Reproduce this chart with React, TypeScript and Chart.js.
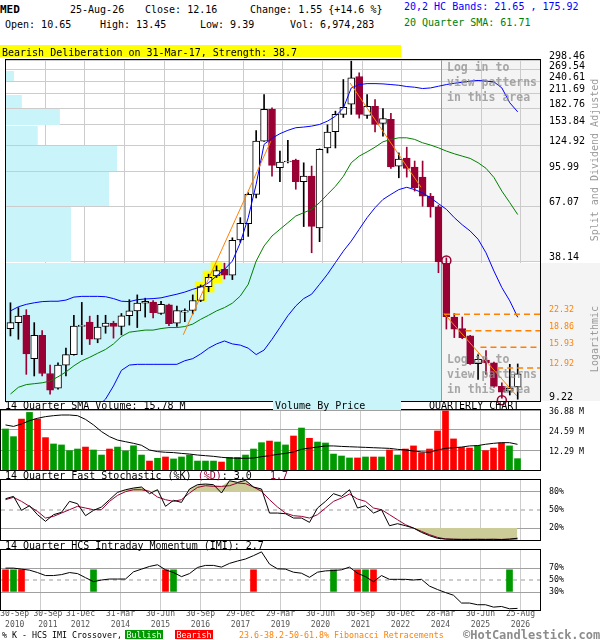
import React, { useEffect, useRef } from "react";
import { Chart, registerables } from "chart.js";

Chart.register(...registerables);

const FONT = "'DejaVu Sans Mono', monospace";
Chart.defaults.font.family = FONT;

const CYAN = "#c8f4fa";
const DOWN = "#990033";
const ORANGE = "#ff8000";
const OLIVE = "#cccc99";
const GREEN_BAR = "#009900";
const RED_BAR = "#ff0000";
const X_MIN = -0.5625;
const X_MAX = 66.8125;

// ---------- quarterly candles (30-Sep-2010 .. 25-Aug-2026) ----------
const opens = [19.3, 20.5, 22.1, 14.2, 18.0, 12.2, 10.5, 13.3, 14.8, 19.7,
  20.6, 17.3, 19.7, 20.4, 19.7, 22.0, 23.1, 25.0, 25.3, 22.5,
  24.6, 20.4, 22.8, 23.2, 25.7, 29.6, 33.0, 35.3, 33.3, 47.7,
  56.3, 75.8, 130.5, 180.3, 99.5, 105.5, 107.6, 86.2, 91.4, 53.8,
  121.7, 143.6, 171.4, 190.4, 252.2, 169.5, 186.2, 156.3, 162.8, 101.2,
  109.7, 100.1, 90.5, 74.5, 66.8, 37.5, 21.7, 19.3, 17.9, 13.5,
  14.0, 13.6, 10.7, 10.2, 10.65];
const highs = [25.1, 23.9, 23.4, 20.5, 18.9, 13.3, 13.6, 15.8, 22.1, 25.2,
  21.9, 22.1, 22.1, 20.8, 22.5, 25.9, 27.2, 26.3, 25.7, 25.5,
  24.8, 24.3, 23.6, 27.2, 30.1, 33.6, 36.6, 37.6, 48.7, 59.8,
  77.1, 145.5, 210.0, 183.4, 117.9, 131.5, 108.6, 104.6, 101.2, 120.7,
  154.1, 177.2, 244.6, 295.0, 261.9, 210.0, 199.1, 181.8, 173.4, 115.7,
  122.7, 106.5, 106.5, 76.6, 67.9, 39.7, 22.5, 21.7, 18.0, 14.8,
  15.4, 13.7, 11.1, 13.4, 13.45];
const lows = [17.9, 17.3, 12.1, 11.9, 11.9, 9.88, 10.4, 11.9, 14.7, 14.8,
  16.4, 16.7, 18.4, 17.5, 18.1, 20.0, 19.5, 21.7, 21.5, 22.3,
  19.9, 19.7, 20.7, 22.4, 25.4, 28.1, 32.5, 32.0, 31.8, 46.5,
  49.4, 73.2, 130.0, 91.4, 86.2, 104.6, 79.9, 54.6, 41.8, 46.8,
  115.7, 121.7, 166.1, 171.4, 165.0, 164.3, 143.5, 137.4, 98.9, 89.8,
  90.4, 78.4, 67.2, 60.1, 34.1, 19.2, 17.6, 17.4, 13.4, 11.5,
  12.1, 10.6, 9.5, 9.8, 9.39];
const closes = [20.5, 21.9, 14.9, 18.0, 12.2, 10.3, 13.3, 14.8, 19.8, 20.0,
  17.3, 19.6, 20.4, 19.7, 22.0, 23.1, 25.0, 25.5, 22.7, 24.7,
  20.3, 23.2, 23.2, 25.7, 29.6, 32.5, 34.9, 33.3, 47.4, 56.5,
  75.8, 130.5, 180.3, 101.9, 105.4, 106.5, 86.2, 91.4, 54.7, 120.0,
  143.1, 171.4, 184.1, 248.8, 171.4, 186.2, 154.8, 164.4, 100.2, 108.6,
  98.9, 81.1, 74.5, 66.8, 38.1, 21.8, 19.2, 17.6, 13.5, 14.1,
  13.6, 10.7, 10.1, 10.5, 12.16];

// ---------- overlays ----------
const bbUpper = [23.1, 24.1, 24.7, 25.1, 25.4, 25.5, 25.5, 25.8, 26.6, 26.8,
  26.8, 26.8, 26.7, 26.2, 25.5, 25.4, 25.9, 26.1, 26.2, 26.4,
  26.9, 27.4, 28.0, 28.8, 29.5, 30.8, 33.0, 35.3, 38.4, 46.3,
  59.8, 84.0, 126.3, 134.3, 140.8, 145.7, 149.6, 150.6, 152.1, 154.7,
  160.0, 168.2, 182.8, 224.5, 232.3, 234.6, 234.6, 233.9, 232.3, 230.7,
  227.7, 226.1, 223.1, 224.5, 228.4, 232.3, 235.4, 237.8, 240.6, 242.3,
  240.6, 238.9, 224.5, 192.9, 175.92];
const bbLower = [null, null, null, null, null, null, null, null, null, null,
  null, 8.7, 9.4, 10.75, 12.6, 13.3, 13.4, 13.4, 13.4, 13.4,
  13.4, 13.4, 13.9, 14.2, 14.9, 15.8, 16.5, 17.0, 16.5, 16.3,
  15.8, 14.8, 15.5, 17.3, 19.5, 22.0, 24.3, 26.2, 27.4, 30.3,
  33.6, 37.8, 42.5, 47.1, 53.1, 59.8, 66.2, 72.0, 75.8, 79.6,
  81.5, 79.6, 77.0, 73.2, 69.0, 65.1, 59.8, 55.6, 52.2, 48.0,
  41.8, 34.7, 29.3, 25.6, 21.65];
const sma20 = [9.9, 10.6, 10.9, 11.0, 11.1, 11.3, 11.8, 12.4, 13.2, 13.9,
  14.4, 15.0, 15.6, 16.5, 17.8, 18.6, 18.8, 19.0, 19.0, 19.3,
  19.5, 19.5, 19.7, 20.2, 21.2, 22.1, 23.1, 23.9, 25.0, 26.9,
  30.3, 38.4, 44.8, 49.6, 53.1, 56.8, 60.8, 62.9, 65.1, 69.7,
  75.8, 82.3, 91.1, 104.7, 112.0, 117.0, 122.7, 129.6, 132.8, 135.0,
  135.0, 132.8, 128.3, 125.4, 121.9, 117.9, 114.7, 112.0, 109.4, 104.7,
  98.9, 90.1, 78.4, 69.7, 61.71];

const highlightIdx = [24, 25, 26];
const highlightLow = [25.4, 28.0, 30.8];
const highlightHigh = [31.0, 34.7, 37.8];
const circleIdx = [55, 62];
const circlePrice = [38.6, 9.3];
const trendStartIdx = [21.8, 42.85, 54.7];
const trendStartPrice = [18.1, 236, 22.5];
const trendEndIdx = [32.85, 51.8, 63.9];
const trendEndPrice = [130.5, 81.5, 9.7];
const fibLevels = [22.32, 18.86, 15.93, 12.92];
const fibStartIdx = [54.7, 57.4, 59.3, 61.4];

const priceTicks = [9.22, 38.14, 67.07, 95.99, 124.92, 153.84, 182.76, 211.69, 240.61, 269.54, 298.46];
// volume-by-price, bar length (in quarters of x axis) for each band between price ticks
const vbpLength = [55, 8.2, 13.0, 14.0, 4.0, 6.8, 2.0, 0, 1.0, 0];
const patternStartIdx = 54.375;

// ---------- volume ----------
const volumes = [25.2, 20.5, 31.3, 35.4, 31.3, 19.9, 16.0, 15.4, 11.9, 12.9,
  14.1, 12.3, 9.2, 12.9, 14.1, 11.7, 14.9, 9.2, 5.5, 7.2,
  8.0, 6.8, 8.0, 9.2, 5.5, 5.5, 5.5, 4.9, 7.8, 7.8,
  9.2, 12.9, 16.8, 17.8, 17.2, 15.4, 20.9, 25.8, 19.5, 17.2,
  16.6, 9.8, 8.6, 7.4, 7.4, 8.0, 8.0, 8.0, 12.3, 9.2,
  12.9, 14.8, 10.6, 12.9, 24.0, 36.3, 19.1, 13.9, 13.5, 14.9,
  11.9, 13.5, 16.6, 14.8, 6.97];
const volSma = [27.7, 26.8, 28.3, 30.3, 31.8, 32.8, 33.4, 33.8, 33.8, 33.4,
  31.1, 27.7, 23.6, 20.5, 18.4, 17.4, 16.4, 15.2, 12.3, 11.3,
  10.9, 10.7, 10.2, 9.8, 9.2, 8.8, 8.4, 7.8, 7.4, 7.2,
  7.2, 7.4, 8.2, 8.8, 9.6, 10.2, 11.1, 12.7, 13.5, 14.1,
  14.8, 14.8, 14.5, 14.3, 14.1, 13.9, 13.7, 13.5, 13.3, 12.7,
  12.3, 11.7, 11.1, 10.9, 12.3, 13.3, 13.7, 14.1, 14.8, 15.0,
  15.8, 16.4, 16.8, 16.8, 15.78];
const volTicks = [12.29, 24.59, 36.88];

// ---------- stochastic ----------
const stochK = [68.8, 72.7, 49.4, 57.2, 42.2, 31.1, 42.2, 46.1, 64.4, 60.5,
  40.5, 49.4, 55.0, 67.2, 79.4, 83.8, 86.6, 88.3, 77.2, 83.8,
  56.1, 66.1, 62.7, 85.0, 92.2, 93.3, 92.2, 78.3, 98.8, 96.0,
  99.4, 88.3, 85.0, 44.9, 44.9, 43.8, 36.6, 36.6, 29.4, 53.3,
  64.4, 77.2, 72.7, 83.8, 53.3, 57.2, 44.9, 50.5, 23.8, 27.2,
  23.8, 19.9, 12.7, 7.2, 2.8, 1.5, 1.2, 1.0, 1.0, 1.2,
  1.0, 1.2, 0.8, 1.5, 3.0];
const stochD = [67.2, 71.1, 64.4, 56.1, 47.7, 36.6, 39.4, 44.9, 50.5, 56.1,
  53.3, 50.5, 50.5, 64.4, 74.4, 80.5, 83.8, 83.8, 81.1, 71.6,
  67.2, 64.4, 67.2, 78.3, 87.7, 90.5, 89.4, 89.4, 90.5, 95.0,
  93.9, 88.3, 81.1, 67.2, 55.0, 44.9, 40.5, 39.4, 36.6, 42.2,
  53.3, 64.4, 70.0, 76.6, 68.3, 64.4, 53.3, 50.5, 42.2, 33.8,
  25.5, 19.9, 14.4, 8.9, 4.4, 1.7, 1.2, 1.0, 1.0, 1.0,
  1.0, 1.0, 1.0, 1.2, 1.7];
const stochTicks = [20, 50, 80];

// ---------- IMI ----------
const imi = [69.8, 69.8, 68.1, 66.4, 62.4, 57.4, 57.4, 59.0, 62.4, 60.7,
  53.9, 47.2, 50.0, 51.6, 51.6, 51.6, 63.6, 68.1, 72.6, 75.4,
  67.0, 62.4, 55.6, 60.7, 70.9, 74.3, 74.3, 71.5, 77.7, 81.6,
  85.0, 90.6, 96.9, 76.5, 68.6, 68.1, 63.0, 61.3, 54.5, 63.0,
  65.2, 65.8, 67.0, 71.5, 61.3, 55.6, 47.2, 57.4, 51.1, 51.1,
  51.1, 50.0, 51.1, 39.8, 34.1, 29.1, 24.6, 11.6, 11.6, 8.8,
  8.8, 4.8, 5.9, 2.0, 2.7];
const bullishIdx = [1, 11, 21, 41, 45, 63];
const bearishIdx = [0, 2, 20, 31, 44, 46];
const crossRange = [31, 67];
const imiTicks = [30, 50, 70];

// ---------- x labels ----------
const xLabelIdx = [0, 4, 9, 14, 19, 24, 29, 34, 39, 44, 49, 54, 59, 64];
const xLabelDate = ["30-Sep", "30-Sep", "31-Dec", "31-Mar", "30-Jun", "30-Sep", "29-Dec", "29-Mar", "30-Jun", "30-Sep", "30-Dec", "28-Mar", "30-Jun", "25-Aug"];
const xLabelYear = ["2010", "2011", "2012", "2014", "2015", "2016", "2017", "2019", "2020", "2021", "2022", "2024", "2025", "2026"];
// first two labels are pushed right so they do not collide
const xLabelNudge = [1.15, 1.3, 0.375, 0.375, 0.375, 0.375, 0.375, 0.375, 0.375, 0.375, 0.375, 0.375, 0.375, 0.375];

const idx = opens.map((_, i) => i);
const isUp = (i: number) => closes[i] >= opens[i];
const xGridPos = xLabelIdx.slice(1).map((i) => i + 0.375);
const xLabelPos = xLabelIdx.map((i, k) => i + xLabelNudge[k]);
const series = (arr: any[]) => arr.map((y, i) => ({ x: i, y })).filter((p) => p.y != null);
const CLEAR = "rgba(0,0,0,0)";

function lineDs(data: any[], color: string, extra: any = {}) {
  return { type: "line", data, borderColor: color, backgroundColor: CLEAR, borderWidth: 1, pointRadius: 0, fill: false, tension: 0, order: 5, ...extra };
}

function xAxis(withLabels: boolean) {
  // label ticks followed by the grid ticks (grid ticks carry no label)
  const labelCount = xLabelPos.length;
  const tickValues = withLabels ? [...xLabelPos, ...xGridPos] : xGridPos;
  return {
    type: "linear",
    min: X_MIN,
    max: X_MAX,
    offset: false,
    grid: {
      color: withLabels ? (c: any) => (c.index < labelCount ? CLEAR : "#cccccc") : "#cccccc",
      drawTicks: false,
      offset: false,
    },
    border: { display: false },
    ticks: withLabels
      ? {
          autoSkip: false, maxRotation: 0, minRotation: 0, padding: -2, color: "#555555",
          font: { family: FONT, size: 8, lineHeight: 1.375 },
          callback: (_v: any, k: number) => (k < labelCount ? [xLabelDate[k], xLabelYear[k]] : ""),
        }
      : { display: false },
    afterBuildTicks: (s: any) => {
      s.ticks = tickValues.map((value) => ({ value }));
    },
    afterFit: (s: any) => {
      s.height = withLabels ? 26 : 0;
      s.paddingLeft = 0;
      s.paddingRight = 0;
    },
  };
}

function yAxis(o: any) {
  return {
    position: "right",
    border: { display: false },
    afterFit: (s: any) => {
      s.width = 60;
      s.paddingTop = 0;
      s.paddingBottom = 0;
    },
    ...o,
  };
}

function baseOptions(padding: any, scales: any) {
  return {
    responsive: false,
    animation: false,
    events: [],
    layout: { padding },
    plugins: { legend: { display: false }, tooltip: { enabled: false } },
    scales,
  };
}

const framePlugin = {
  id: "frame",
  afterDraw(chart: any) {
    const { ctx, chartArea: a } = chart;
    const l = Math.round(a.left), r = Math.round(a.right), t = Math.round(a.top), b = Math.round(a.bottom);
    ctx.save();
    ctx.strokeStyle = "#000";
    ctx.lineWidth = 1;
    ctx.strokeRect(l - 0.5, t - 0.5, r - l + 1, b - t + 1);
    ctx.restore();
  },
};

const backdropPlugin = {
  id: "backdrop",
  beforeDatasetsDraw(chart: any) {
    const { ctx, chartArea: a, scales } = chart;
    const x = scales.x, y = scales.y;
    ctx.save();
    ctx.fillStyle = CYAN;
    for (let k = 0; k < vbpLength.length; k++) {
      if (!vbpLength[k]) continue;
      const yTop = Math.round(y.getPixelForValue(priceTicks[k + 1]));
      const yBot = Math.round(y.getPixelForValue(priceTicks[k]));
      const x1 = x.getPixelForValue(X_MIN + vbpLength[k]);
      ctx.fillRect(a.left, yTop + 1, x1 - a.left, yBot - yTop - 1);
    }
    const px = Math.round(x.getPixelForValue(patternStartIdx));
    const yMid = Math.round(y.getPixelForValue(priceTicks[1]));
    ctx.fillStyle = "rgba(200,200,200,0.2)";
    ctx.fillRect(px, a.top, a.right - px, yMid - a.top);
    ctx.fillStyle = "#f4f4f4";
    ctx.fillRect(px, yMid + 1, chart.width - px, a.bottom - yMid - 1);
    ctx.strokeStyle = "#999999";
    ctx.lineWidth = 1;
    ctx.beginPath();
    ctx.moveTo(px + 0.5, a.top);
    ctx.lineTo(px + 0.5, a.bottom);
    ctx.stroke();
    ctx.restore();
  },
};

function priceConfig(): any {
  const isFib = (c: any) => c.tick && fibLevels.includes(c.tick.value);
  const datasets: any[] = [
    { type: "bar", data: highlightIdx.map((x, k) => ({ x, y: [highlightLow[k], highlightHigh[k]] })), backgroundColor: "#ffff00", barThickness: 11, grouped: false, order: 20 },
    { type: "bar", data: idx.map((i) => ({ x: i, y: [lows[i], highs[i]] })), backgroundColor: idx.map((i) => (isUp(i) ? "#000000" : DOWN)), barThickness: 1, grouped: false, order: 12 },
    {
      type: "bar",
      data: idx.map((i) => ({ x: i, y: [Math.min(opens[i], closes[i]), Math.max(opens[i], closes[i])] })),
      backgroundColor: idx.map((i) => (isUp(i) ? "#ffffff" : DOWN)),
      borderColor: idx.map((i) => (isUp(i) ? "#000000" : DOWN)),
      borderWidth: 1, borderSkipped: false, barThickness: 7, grouped: false, order: 11,
    },
    lineDs(series(sma20), "#008000", { order: 6 }),
    lineDs(series(bbUpper), "#0000ff"),
    lineDs(series(bbLower), "#0000ff"),
    ...trendStartIdx.map((x0, k) => lineDs([{ x: x0, y: trendStartPrice[k] }, { x: trendEndIdx[k], y: trendEndPrice[k] }], ORANGE, { order: 4 })),
    ...fibLevels.map((lv, k) => lineDs([{ x: fibStartIdx[k], y: lv }, { x: X_MAX, y: lv }], ORANGE, { borderDash: [6, 4], borderWidth: 1.5, order: 4 })),
    {
      type: "line", data: circleIdx.map((x, k) => ({ x, y: circlePrice[k] })), showLine: false,
      pointRadius: 4.5, pointBorderColor: DOWN, pointBackgroundColor: CLEAR, pointBorderWidth: 1.5, clip: false, order: 1,
    },
  ];
  return {
    type: "line",
    data: { datasets },
    options: baseOptions({ top: 12, bottom: 9, left: 1, right: 0 }, {
      x: xAxis(false),
      y: yAxis({
        type: "logarithmic",
        min: priceTicks[0],
        max: priceTicks[priceTicks.length - 1],
        afterBuildTicks: (s: any) => {
          s.ticks = [...priceTicks, ...fibLevels].sort((a, b) => a - b).map((value) => ({ value }));
        },
        grid: { drawTicks: false, color: (c: any) => (isFib(c) ? CLEAR : "#cccccc") },
        ticks: {
          z: 1, padding: 9, labelOffset: -4, autoSkip: false,
          color: (c: any) => (isFib(c) ? ORANGE : "#000000"),
          font: (c: any) => ({ family: FONT, size: isFib(c) ? 8.3 : 10 }),
          callback: (v: any) => Number(v).toFixed(2),
        },
      }),
    }),
    plugins: [backdropPlugin, framePlugin],
  };
}

function volumeConfig(): any {
  return {
    type: "line",
    data: {
      datasets: [
        { type: "bar", data: idx.map((i) => ({ x: i, y: volumes[i] })), backgroundColor: idx.map((i) => (isUp(i) ? GREEN_BAR : RED_BAR)), barThickness: 6, grouped: false, order: 3 },
        lineDs(series(volSma), "#000000", { order: 1 }),
      ],
    },
    options: baseOptions({ top: 8, bottom: 6, left: 1, right: 0 }, {
      x: xAxis(false),
      y: yAxis({
        type: "linear", min: 0, max: Math.max(...volTicks),
        afterBuildTicks: (s: any) => { s.ticks = volTicks.map((value) => ({ value })); },
        grid: { drawTicks: false, color: "#a0a0a0" },
        ticks: { padding: 9, labelOffset: 2, autoSkip: false, color: "#000", font: { family: FONT, size: 8.3 }, callback: (v: any) => Number(v).toFixed(2) + " M" },
      }),
    }),
    plugins: [framePlugin],
  };
}

function stochConfig(): any {
  return {
    type: "line",
    data: {
      datasets: [
        lineDs(idx.map((i) => ({ x: i, y: Math.max(stochK[i], stochD[i]) })), CLEAR, { fill: { target: { value: 80 }, above: OLIVE, below: CLEAR }, order: 9 }),
        lineDs(idx.map((i) => ({ x: i, y: Math.min(stochK[i], stochD[i]) })), CLEAR, { fill: { target: { value: 20 }, above: CLEAR, below: OLIVE }, order: 9 }),
        lineDs([{ x: X_MIN, y: 50 }, { x: X_MAX, y: 50 }], "#999999", { borderDash: [4, 4], order: 8 }),
        lineDs(series(stochD), DOWN, { order: 2 }),
        lineDs(series(stochK), "#000000", { order: 1 }),
      ],
    },
    options: baseOptions({ top: 4, bottom: 4, left: 1, right: 0 }, {
      x: xAxis(false),
      y: yAxis({
        type: "linear", min: 0, max: 100,
        afterBuildTicks: (s: any) => { s.ticks = stochTicks.map((value) => ({ value })); },
        grid: { drawTicks: false, color: (c: any) => (c.tick && c.tick.value === 50 ? CLEAR : "#a0a0a0") },
        ticks: { padding: 9, autoSkip: false, color: "#000", font: { family: FONT, size: 8.3 }, callback: (v: any) => v + "%" },
      }),
    }),
    plugins: [framePlugin],
  };
}

function imiConfig(): any {
  return {
    type: "line",
    data: {
      datasets: [
        lineDs([{ x: X_MIN, y: 50 }, { x: X_MAX, y: 50 }], "#999999", { borderDash: [4, 4], order: 8 }),
        { type: "bar", data: bullishIdx.map((x) => ({ x, y: [crossRange[0], crossRange[1]] })), backgroundColor: GREEN_BAR, barThickness: 6, grouped: false, order: 5 },
        { type: "bar", data: bearishIdx.map((x) => ({ x, y: [crossRange[0], crossRange[1]] })), backgroundColor: RED_BAR, barThickness: 6, grouped: false, order: 5 },
        lineDs(series(imi), "#000000", { order: 1 }),
      ],
    },
    options: baseOptions({ top: 6, bottom: 0, left: 1, right: 0 }, {
      x: xAxis(true),
      y: yAxis({
        type: "linear", min: 0, max: 100,
        afterBuildTicks: (s: any) => { s.ticks = imiTicks.map((value) => ({ value })); },
        grid: { drawTicks: false, color: (c: any) => (c.tick && c.tick.value === 50 ? CLEAR : "#a0a0a0") },
        ticks: { padding: 9, autoSkip: false, color: "#000", font: { family: FONT, size: 8.3 }, callback: (v: any) => v + "%" },
      }),
    }),
    plugins: [framePlugin],
  };
}

function ChartCanvas({ top, height, make }: any) {
  const ref = useRef<HTMLCanvasElement | null>(null);
  useEffect(() => {
    const chart = new Chart(ref.current as any, make());
    return () => chart.destroy();
  }, []);
  return <canvas ref={ref} width={600} height={height} style={{ position: "absolute", left: 0, top, width: 600, height }} />;
}

function Txt({ x, y, color = "#000", size = 10, bold = false, children, style = {} }: any) {
  return (
    <div style={{ position: "absolute", left: x, top: y, color, fontSize: size, fontWeight: bold ? "bold" : "normal", lineHeight: `${size}px`, whiteSpace: "pre", fontFamily: FONT, ...style }}>
      {children}
    </div>
  );
}

export default function App() {
  const lockStyle = { lineHeight: "15px", color: "rgba(140,140,140,0.75)" };
  return (
    <div style={{ position: "absolute", left: 0, top: 0, width: 600, height: 640, background: "#fff", overflow: "hidden", fontFamily: FONT }}>
      <ChartCanvas top={48} height={362} make={priceConfig} />
      <ChartCanvas top={402} height={74} make={volumeConfig} />
      <ChartCanvas top={476} height={68} make={stochConfig} />
      <ChartCanvas top={544} height={92} make={imiConfig} />

      {/* header */}
      <Txt x={0} y={3.7} size={11} bold>MED</Txt>
      <Txt x={70} y={4.5}>25-Aug-26</Txt>
      <Txt x={145} y={4.5}>Close: 12.16</Txt>
      <Txt x={250} y={4.5}>{"Change: 1.55 {+14.6 %}"}</Txt>
      <Txt x={5} y={19.5}>Open: 10.65</Txt>
      <Txt x={100} y={19.5}>High: 13.45</Txt>
      <Txt x={200} y={19.5}>Low: 9.39</Txt>
      <Txt x={290} y={19.5}>Vol: 6,974,283</Txt>
      <Txt x={404} y={2.2} color="#0000ff">20,2 HC Bands: 21.65 , 175.92</Txt>
      <Txt x={404} y={18.2} color="#008000">20 Quarter SMA: 61.71</Txt>
      <div style={{ position: "absolute", left: 0, top: 45, width: 401, height: 12, background: "#ffff00", fontFamily: FONT, fontSize: 10, lineHeight: "15px", paddingLeft: 2, boxSizing: "border-box", whiteSpace: "pre" }}>
        Bearish Deliberation on 31-Mar-17, Strength: 38.7
      </div>

      {/* pattern lock notes */}
      <Txt x={447} y={60.2} size={11.5} bold style={lockStyle}>{"Log in to\nview patterns\nin this area"}</Txt>
      <Txt x={447} y={351.8} size={11.5} bold style={lockStyle}>{"Log in to\nview patterns\nin this area"}</Txt>

      {/* rotated side notes */}
      <div style={{ position: "absolute", left: 510, top: 154, width: 170, height: 12, lineHeight: "12px", textAlign: "center", transform: "rotate(-90deg)", color: "#999", fontSize: 10, fontFamily: FONT, whiteSpace: "pre" }}>Split and Dividend Adjusted</div>
      <div style={{ position: "absolute", left: 545, top: 333, width: 100, height: 12, lineHeight: "12px", textAlign: "center", transform: "rotate(-90deg)", color: "#999", fontSize: 10, fontFamily: FONT, whiteSpace: "pre" }}>Logarithmic</div>

      {/* panel titles */}
      <Txt x={5} y={400.5}>14 Quarter SMA Volume: 15.78 M</Txt>
      <div style={{ position: "absolute", left: 273, top: 400, width: 128, height: 10, background: CYAN }} />
      <Txt x={275} y={400.5}>Volume By Price</Txt>
      <Txt x={429} y={400.5}>QUARTERLY CHART</Txt>
      <Txt x={5} y={470.5}>
        <span>{"14 Quarter Fast Stochastic (%K) "}</span>
        <span style={{ color: DOWN }}>(%D)</span>
        <span>{": 3.0   "}</span>
        <span style={{ color: DOWN }}>1.7</span>
      </Txt>
      <Txt x={5} y={540.5}>14 Quarter HCS Intraday Momentum (IMI): 2.7</Txt>

      {/* bottom legend */}
      <Txt x={2} y={631} size={8.3}>% K - HCS IMI Crossover,</Txt>
      <div style={{ position: "absolute", left: 125, top: 630, width: 38, height: 9, background: GREEN_BAR, color: "#fff", fontSize: 8.3, lineHeight: "10px", textAlign: "center", fontFamily: FONT }}>Bullish</div>
      <div style={{ position: "absolute", left: 175, top: 630, width: 38, height: 9, background: RED_BAR, color: "#fff", fontSize: 8.3, lineHeight: "10px", textAlign: "center", fontFamily: FONT }}>Bearish</div>
      <Txt x={239} y={631} size={8.3} color={ORANGE}>23.6-38.2-50-61.8% Fibonacci Retracements</Txt>
      <Txt x={463} y={628.8} size={12} bold color="#8c8c8c">©HotCandlestick.com</Txt>
    </div>
  );
}
